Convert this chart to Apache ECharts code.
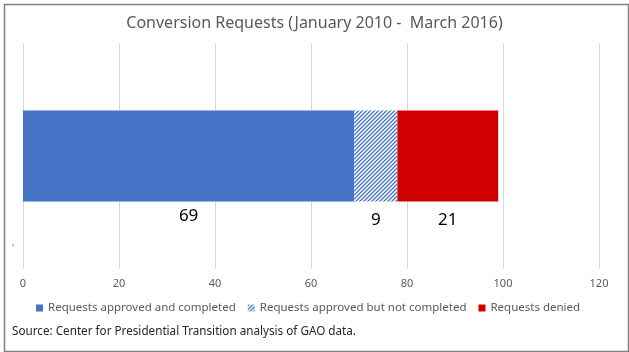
<!DOCTYPE html>
<html>
<head>
<meta charset="utf-8">
<script src="https://cdn.jsdelivr.net/npm/echarts@6/dist/echarts.min.js"></script>
<style>
  html, body { margin: 0; padding: 0; background: #fff; }
  #chart { width: 629px; height: 352px; }
</style>
</head>
<body>
<div id="chart"></div>
<script>
var categories = [''];
var approvedCompleted = [69];
var approvedNotCompleted = [9];
var denied = [21];
var seriesNames = ['Requests approved and completed', 'Requests approved but not completed', 'Requests denied'];
var xTicks = [0, 20, 40, 60, 80, 100, 120];

// hatched fill for the middle segment
function hatch() {
  var c = document.createElement('canvas');
  c.width = 4; c.height = 4;
  var ctx = c.getContext('2d');
  var shades = ['#4472c4', '#8eaadb', '#ffffff', '#c9d6f0'];
  for (var x = 0; x < 4; x++) {
    for (var y = 0; y < 4; y++) {
      ctx.fillStyle = shades[(x + y) % 4];
      ctx.fillRect(x, y, 1, 1);
    }
  }
  return c;
}

var font = 'Noto Sans';
var chart = echarts.init(document.getElementById('chart'));

var option = {
  animation: false,
  title: {
    text: 'Conversion Requests (January 2010 -  March 2016)',
    left: 'center',
    top: 10,
    textStyle: { fontFamily: font, fontSize: 16, fontWeight: 'normal', color: '#595959' }
  },
  legend: {
    top: 297,
    left: 31,
    itemWidth: 7,
    itemHeight: 7,
    itemGap: 12,
    icon: 'rect',
    textStyle: { fontFamily: font, fontSize: 11.5, color: '#595959' },
    data: seriesNames
  },
  grid: { left: 23, right: 30, top: 43, bottom: 83 },
  xAxis: {
    type: 'value',
    min: 0,
    max: 120,
    interval: 20,
    axisLine: { show: false },
    axisTick: { show: false },
    splitLine: { lineStyle: { color: '#d9d9d9' } },
    axisLabel: {
      fontFamily: font, fontSize: 11, color: '#595959', margin: 9,
      formatter: function (v) { return xTicks.indexOf(v) >= 0 ? String(v) : ''; }
    }
  },
  yAxis: {
    type: 'category',
    data: categories,
    axisLine: { show: false },
    axisTick: { show: false },
    axisLabel: { show: false }
  },
  series: [
    {
      name: seriesNames[0], type: 'bar', stack: 'total', barWidth: 91,
      data: approvedCompleted,
      itemStyle: { color: '#4472c4' },
      label: { show: true, position: 'bottom', distance: 6, fontFamily: font, fontSize: 17, color: '#000' }
    },
    {
      name: seriesNames[1], type: 'bar', stack: 'total', barWidth: 91,
      data: approvedNotCompleted,
      itemStyle: { color: { image: hatch(), repeat: 'repeat' } },
      label: { show: true, position: 'bottom', distance: 10, fontFamily: font, fontSize: 17, color: '#000' }
    },
    {
      name: seriesNames[2], type: 'bar', stack: 'total', barWidth: 91,
      data: denied,
      itemStyle: { color: '#d00000' },
      label: { show: true, position: 'bottom', distance: 10, fontFamily: font, fontSize: 17, color: '#000' }
    }
  ],
  graphic: [
    {
      type: 'rect', left: 2, top: 2,
      shape: { width: 624, height: 347 },
      style: { fill: 'none', stroke: '#808080', lineWidth: 1.5 }
    },
    {
      type: 'text', left: 12, top: 326,
      style: { text: 'Source: Center for Presidential Transition analysis of GAO data.', font: '11.7px "Noto Sans"', fill: '#262626' }
    },
    {
      type: 'text', left: 12, top: 244,
      style: { text: '\'', font: '9px "Noto Sans"', fill: '#7030a0' }
    }
  ]
};

chart.setOption(option);
</script>
</body>
</html>
